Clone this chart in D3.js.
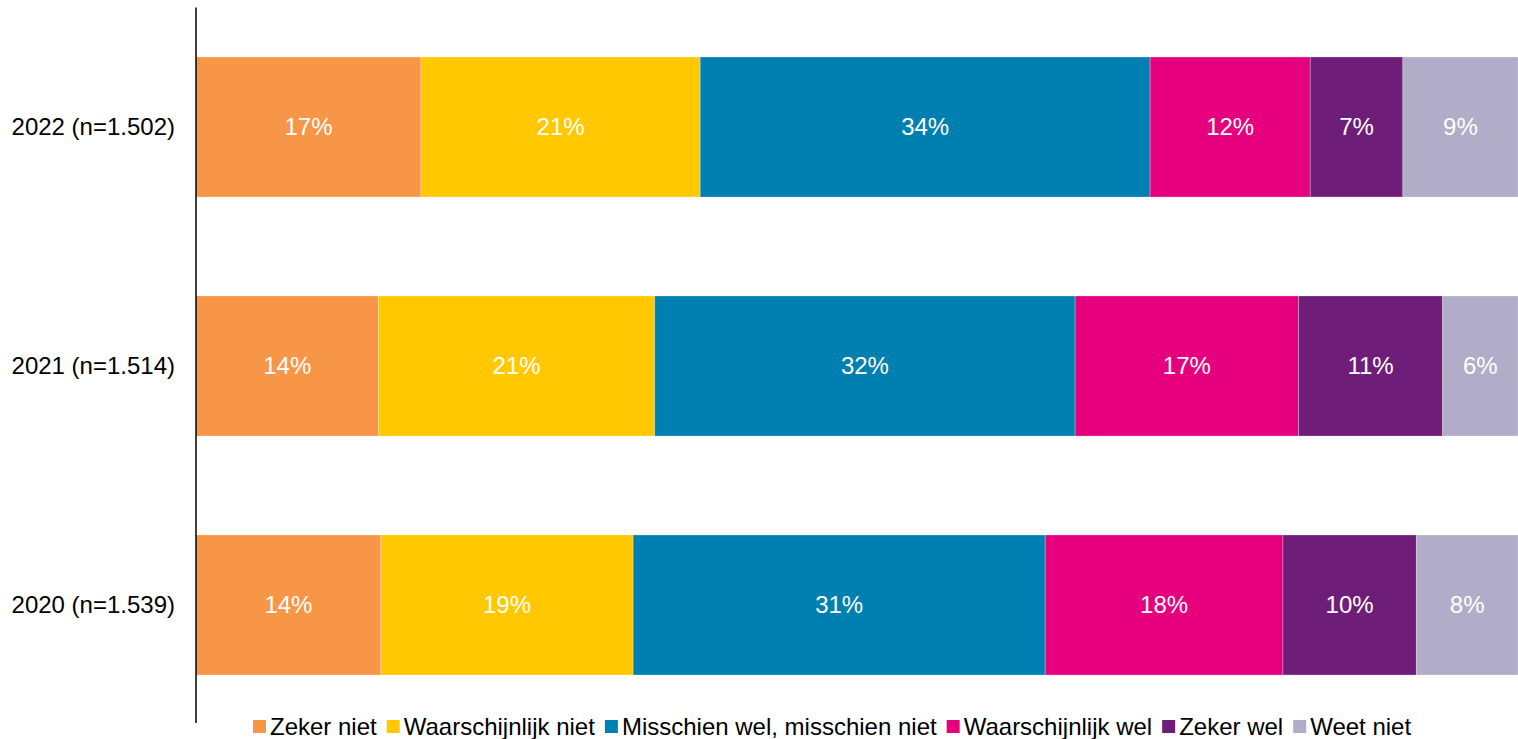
<!DOCTYPE html>
<meta charset="utf-8">
<title>Zeker niet / zeker wel</title>
<style>
body { margin: 0; background: #fff; }
svg { font-family: 'Liberation Sans', Arial, sans-serif; display: block; }
.seg-label { fill: #fff; font-size: 24px; text-anchor: middle; }
.cat-label { fill: #000; font-size: 24px; text-anchor: end; }
.legend text { fill: #000; font-size: 24px; }
</style>
<svg width="1518" height="739"></svg>
<script src="https://d3js.org/d3.v7.min.js"></script>
<script>

// data (percent)
var years = ["2022 (n=1.502)", "2021 (n=1.514)", "2020 (n=1.539)"];
var answers = ["Zeker niet", "Waarschijnlijk niet", "Misschien wel, misschien niet",
               "Waarschijnlijk wel", "Zeker wel", "Weet niet"];
var colors = ["#F79646", "#FFC800", "#0080B0", "#E6007E", "#6E1E78", "#B1ACC8"];
var v2022 = [17.0, 21.1, 34.0, 12.1, 7.0, 8.7];
var v2021 = [13.8, 20.9, 31.8, 16.9, 10.9, 5.7];
var v2020 = [14.0, 19.1, 31.2, 18.0, 10.1, 7.7];

var rows = [v2022, v2021, v2020].map(function(vals, i) {
  var r = { year: years[i] };
  answers.forEach(function(a, j) { r[a] = vals[j]; });
  return r;
});

var svg = d3.select("svg");

var x = d3.scaleLinear().domain([0, 1]).range([196, 1518]);
var y = d3.scaleBand().domain(years).range([7.5, 724.5])
  .paddingInner(0.414).paddingOuter(0.207);
var color = d3.scaleOrdinal().domain(answers).range(colors);

var series = d3.stack().keys(answers).offset(d3.stackOffsetExpand)(rows);

var layer = svg.append("g")
  .selectAll("g")
  .data(series)
  .join("g")
    .attr("fill", function(d) { return color(d.key); });

layer.selectAll("rect")
  .data(function(d) { return d; })
  .join("rect")
    .attr("x", function(d) { return x(d[0]); })
    .attr("y", function(d) { return y(d.data.year); })
    .attr("width", function(d) { return x(d[1]) - x(d[0]); })
    .attr("height", y.bandwidth())
    .attr("stroke", "rgba(255,255,255,0.35)")
    .attr("stroke-width", 0.75);

layer.selectAll("text")
  .data(function(d) { return d.map(function(p) { return { p: p, key: d.key }; }); })
  .join("text")
    .attr("class", "seg-label")
    .attr("x", function(d) { return (x(d.p[0]) + x(d.p[1])) / 2; })
    .attr("y", function(d) { return y(d.p.data.year) + y.bandwidth() / 2; })
    .attr("dy", "0.35em")
    .text(function(d) { return Math.round(d.p.data[d.key]) + "%"; });

// category axis
var axis = svg.append("g")
  .attr("transform", "translate(196,0)")
  .call(d3.axisLeft(y).tickSize(0).tickPadding(21));
axis.select(".domain").attr("stroke", "#000").attr("stroke-width", 1.5)
  .attr("d", "M0," + y.range()[0] + "V" + (y.range()[1] - 1.5));
axis.selectAll(".tick text")
  .attr("class", "cat-label")
  .attr("font-family", null)
  .attr("font-size", null)
  .attr("dy", "0.35em");

// legend
var legend = svg.append("g").attr("class", "legend");
var lx = 253;
answers.forEach(function(a) {
  var g = legend.append("g").attr("transform", "translate(" + lx + ",0)");
  g.append("rect").attr("x", 0).attr("y", 720).attr("width", 13).attr("height", 13)
    .attr("fill", color(a));
  var t = g.append("text").attr("x", 17).attr("y", 735).text(a);
  lx += 17 + t.node().getComputedTextLength() + 10;
});

</script>
